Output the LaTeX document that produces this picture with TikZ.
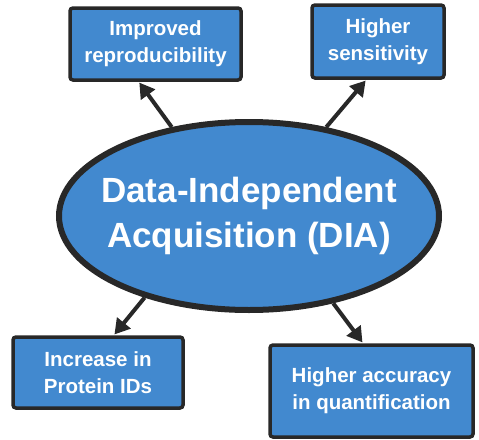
\documentclass[tikz,border=0pt]{standalone}
\usepackage{fontspec}
\setmainfont{Liberation Sans}
\usetikzlibrary{shapes.geometric,arrows.meta}
\definecolor{diablue}{RGB}{66,137,207}
\definecolor{diaedge}{RGB}{40,40,40}

\begin{document}
\begin{tikzpicture}[x=1pt,y=-1pt,
    benefit/.style={draw=diaedge,line width=3.5pt,fill=diablue,rounded corners=3pt,
      text=white,font=\bfseries\fontsize{20.5}{27}\selectfont,align=center,inner sep=0pt},
    central/.style={ellipse,draw=diaedge,line width=6pt,fill=diablue,inner sep=0pt,
      minimum width=380pt,minimum height=188pt},
    centraltext/.style={text=white,font=\bfseries\fontsize{35}{45}\selectfont,align=center,inner sep=0pt},
    link/.style={draw=diaedge,line width=4pt,-{Triangle[length=15pt,width=17pt]},shorten >=1pt}]
    \useasboundingbox (0,0) rectangle (479,439);

    % centre
    \node[central,label={[centraltext]center:Data-Independent\\Acquisition (DIA)}] (dia) at (249,216) {};

    % the four benefits
    \node[benefit,minimum width=171pt,minimum height=72pt] (repro) at (155.5,44) {Improved\\reproducibility};
    \node[benefit,minimum width=132pt,minimum height=73pt] (sens) at (378,41.5) {Higher\\sensitivity};
    \node[benefit,minimum width=170pt,minimum height=71pt] (ids) at (98,372.5) {Increase in\\Protein IDs};
    \node[benefit,minimum width=203pt,minimum height=92pt] (quant) at (371.5,391) {Higher accuracy\\in quantification};

    \draw[link] (dia.131) -- (repro.246.7);
    \draw[link] (dia.49) -- (sens.253.6);
    \draw[link] (dia.218) -- (ids.67);
    \draw[link] (dia.-46) -- (quant.100.5);
  \end{tikzpicture}
\end{document}
